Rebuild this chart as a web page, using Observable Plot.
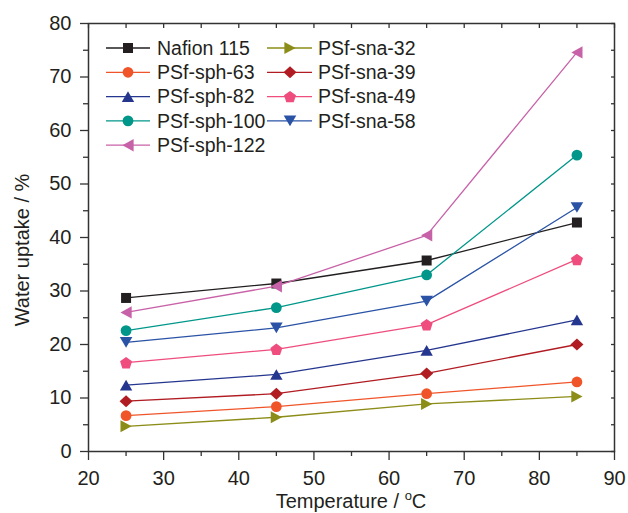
<!DOCTYPE html>
<html>
<head>
<meta charset="utf-8">
<script src="https://cdn.jsdelivr.net/npm/d3@7"></script>
<script src="https://cdn.jsdelivr.net/npm/@observablehq/plot@0.6"></script>
<style>
  html, body { margin: 0; padding: 0; background: #fff; }
  #chart { width: 628px; height: 513px; overflow: hidden; }
</style>
</head>
<body>
<div id="chart"></div>
<script>
// ---- data ----
const temperatures = [25, 45, 65, 85];
const seriesNames = ["Nafion 115", "PSf-sph-63", "PSf-sph-82", "PSf-sph-100", "PSf-sph-122",
                     "PSf-sna-32", "PSf-sna-39", "PSf-sna-49", "PSf-sna-58"];
const nafion115 = [28.7, 31.4, 35.7, 42.8];
const sph63  = [6.7, 8.4, 10.8, 13.0];
const sph82  = [12.4, 14.4, 18.9, 24.6];
const sph100 = [22.6, 26.9, 33.0, 55.4];
const sph122 = [26.0, 30.9, 40.4, 74.6];
const sna32  = [4.7, 6.4, 8.9, 10.3];
const sna39  = [9.4, 10.8, 14.6, 20.0];
const sna49  = [16.6, 19.1, 23.7, 35.9];
const sna58  = [20.4, 23.1, 28.1, 45.6];
const seriesValues = [nafion115, sph63, sph82, sph100, sph122, sna32, sna39, sna49, sna58];
const xMajorTicks = [20, 30, 40, 50, 60, 70, 80, 90];
const xMinorTicks = [25, 35, 45, 55, 65, 75, 85];
const yMajorTicks = [0, 10, 20, 30, 40, 50, 60, 70, 80];
const yMinorTicks = [5, 15, 25, 35, 45, 55, 65, 75];

// ---- styles ----
const colors = ["#231f20", "#f0552a", "#25368f", "#00968a", "#c862a8",
                "#8c8c18", "#b01c22", "#ee4d7e", "#2a53a6"];
const sym = {
  square: { draw(c) { c.moveTo(-5, -5); c.lineTo(5, -5); c.lineTo(5, 5); c.lineTo(-5, 5); c.closePath(); } },
  circle: { draw(c) { c.moveTo(5.4, 0); c.arc(0, 0, 5.4, 0, 2 * Math.PI); } },
  up:     { draw(c) { c.moveTo(0, -5.3); c.lineTo(6.2, 5.3); c.lineTo(-6.2, 5.3); c.closePath(); } },
  down:   { draw(c) { c.moveTo(0, 5.3); c.lineTo(6.3, -5.3); c.lineTo(-6.3, -5.3); c.closePath(); } },
  left:   { draw(c) { c.moveTo(-5.6, 0); c.lineTo(5.6, -6.2); c.lineTo(5.6, 6.2); c.closePath(); } },
  right:  { draw(c) { c.moveTo(5.6, 0); c.lineTo(-5.6, -6); c.lineTo(-5.6, 6); c.closePath(); } },
  diamond:{ draw(c) { c.moveTo(0, -6); c.lineTo(6.5, 0); c.lineTo(0, 6); c.lineTo(-6.5, 0); c.closePath(); } },
  pentagon:{ draw(c) {
    const R = 6.3;
    for (let i = 0; i < 5; i++) {
      const a = -Math.PI / 2 + i * 2 * Math.PI / 5;
      const px = R * Math.cos(a), py = R * Math.sin(a) + 0.6;
      if (i === 0) c.moveTo(px, py); else c.lineTo(px, py);
    }
    c.closePath();
  } }
};
const symbols = [sym.square, sym.circle, sym.up, sym.circle, sym.left,
                 sym.right, sym.diamond, sym.pentagon, sym.down];

const rows = seriesNames.flatMap((name, i) =>
  temperatures.map((t, j) => ({ series: name, idx: i, temperature: t, uptake: seriesValues[i][j] })));

const seriesMarks = seriesNames.flatMap((name, i) => {
  const d = rows.filter(r => r.series === name);
  return [
    Plot.line(d, { x: "temperature", y: "uptake", stroke: colors[i], strokeWidth: 1.3 }),
    Plot.dot(d, { x: "temperature", y: "uptake", symbol: symbols[i], fill: colors[i], stroke: "none", r: 5 })
  ];
});

const axisColor = "#333";
const chart = Plot.plot({
  width: 628,
  height: 513,
  marginLeft: 88,
  marginRight: 14,
  marginTop: 23,
  marginBottom: 62,
  x: { domain: [20, 90] },
  y: { domain: [0, 80] },
  style: { fontFamily: "'Liberation Sans', Arial, sans-serif", fontSize: "20px", color: "#231f20", background: "#fff", overflow: "hidden" },
  marks: [
    Plot.axisX({ ticks: xMajorTicks, tickSize: 9, tickPadding: 10, tickFormat: d => String(d), label: null, stroke: axisColor, strokeWidth: 1.3, fontSize: 20, fill: "#231f20" }),
    Plot.axisX({ ticks: xMinorTicks, tickSize: 5, text: null, label: null, stroke: axisColor, strokeWidth: 1.3 }),
    Plot.axisX({ anchor: "top", ticks: xMajorTicks.concat(xMinorTicks), tickSize: -4, text: null, label: null, stroke: axisColor, strokeWidth: 1.3 }),
    Plot.axisY({ ticks: yMajorTicks, tickSize: 8, tickPadding: 9, tickFormat: d => String(d), label: null, stroke: axisColor, strokeWidth: 1.3, fontSize: 20, fill: "#231f20" }),
    Plot.axisY({ ticks: yMinorTicks, tickSize: 5, text: null, label: null, stroke: axisColor, strokeWidth: 1.3 }),
    Plot.axisY({ anchor: "right", ticks: yMajorTicks.concat(yMinorTicks), tickSize: -4, text: null, label: null, stroke: axisColor, strokeWidth: 1.3 }),
    Plot.frame({ stroke: axisColor, strokeWidth: 1.5 }),
    ...seriesMarks
  ]
});
document.getElementById("chart").appendChild(chart);

// ---- axis titles and legend (drawn on top of the Plot SVG) ----
const svg = d3.select(chart);
const font = "'Liberation Sans', Arial, sans-serif";

svg.append("text")
  .attr("transform", "translate(28.5,250) rotate(-90)")
  .attr("text-anchor", "middle")
  .attr("font-family", font).attr("font-size", 20).attr("fill", "#231f20")
  .text("Water uptake / %");

const xt = svg.append("text")
  .attr("x", 351).attr("y", 508)
  .attr("text-anchor", "middle")
  .attr("font-family", font).attr("font-size", 20).attr("fill", "#231f20");
xt.append("tspan").text("Temperature / ");
xt.append("tspan").attr("dy", -8).attr("font-size", 13).text("o");
xt.append("tspan").attr("dy", 8).text("C");

const legend = svg.append("g")
  .attr("font-family", font).attr("font-size", 19.5).attr("fill", "#231f20")
  .attr("text-anchor", "start");
const colX = [[106, 150, 128, 157], [267, 312, 290, 318]];
seriesNames.forEach((name, i) => {
  const col = i < 5 ? 0 : 1;
  const row = i < 5 ? i : i - 5;
  const y = 48 + row * 24.3;
  const [x1, x2, xm, xt0] = colX[col];
  const g = legend.append("g");
  g.append("line").attr("x1", x1).attr("x2", x2).attr("y1", y).attr("y2", y)
    .attr("stroke", colors[i]).attr("stroke-width", 1.3);
  g.append("path").attr("transform", `translate(${xm},${y})`)
    .attr("d", d3.symbol().type(symbols[i]).size(64)()).attr("fill", colors[i]);
  g.append("text").attr("x", xt0).attr("y", y).attr("dy", "0.35em")
    .attr("text-anchor", "start").text(name);
});
</script>
</body>
</html>
